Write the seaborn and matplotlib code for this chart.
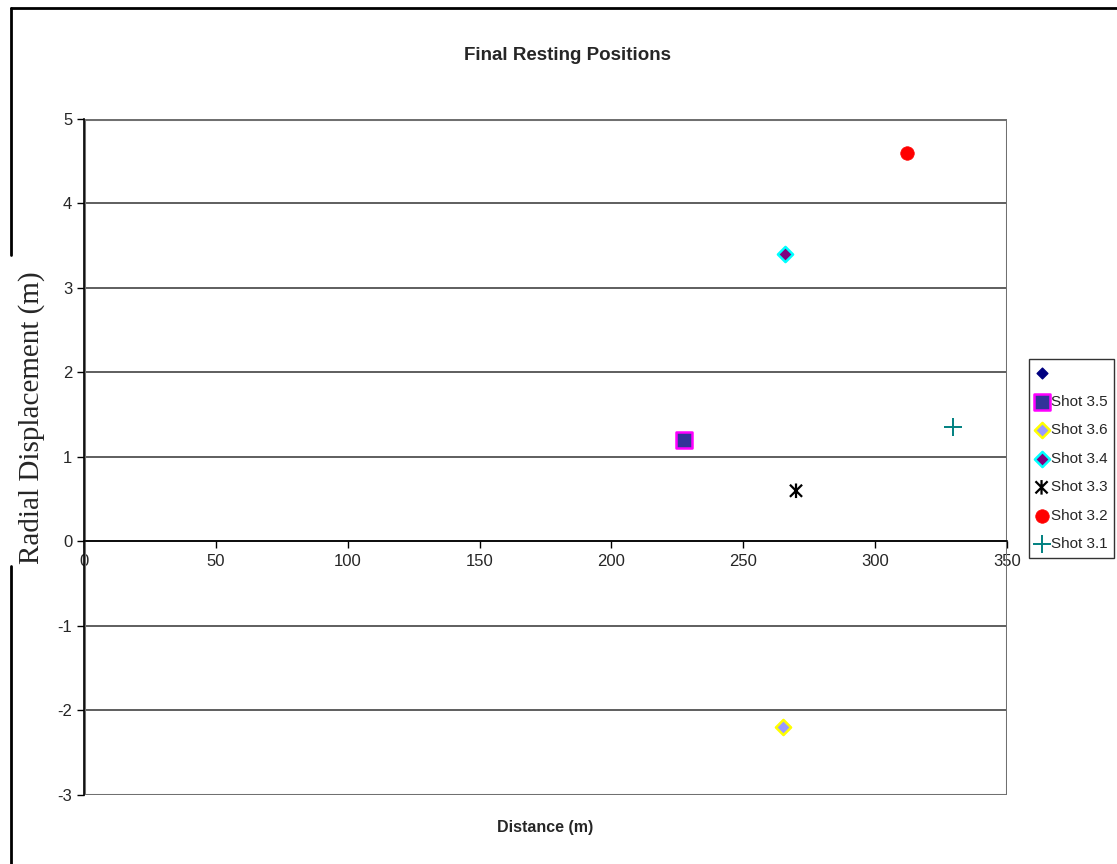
import matplotlib
matplotlib.use("Agg")
import matplotlib.pyplot as plt
import seaborn as sns
from matplotlib.lines import Line2D
from matplotlib.patches import Rectangle
from matplotlib.path import Path

# Final resting positions
SHOTS = ["Shot 3.5", "Shot 3.6", "Shot 3.4", "Shot 3.3", "Shot 3.2", "Shot 3.1"]
DISTANCE = [227.5, 265.0, 266.0, 270.0, 312.0, 329.5]
DISPLACEMENT = [1.2, -2.2, 3.4, 0.6, 4.6, 1.35]

# first series in the legend has no label and no visible points
BLANK_X = []
BLANK_Y = []

X_TICKS = [0, 50, 100, 150, 200, 250, 300, 350]
Y_TICKS = [-3, -2, -1, 0, 1, 2, 3, 4, 5]

# Excel "x with vertical bar" marker
STAR_PATH = Path(
    [(-1, -1), (1, 1), (-1, 1), (1, -1), (0, -1.2), (0, 1.2)],
    [Path.MOVETO, Path.LINETO, Path.MOVETO, Path.LINETO, Path.MOVETO, Path.LINETO],
)

# marker, face, edge, size, line width per shot
STYLES = {
    "Shot 3.5": ("s", "#333399", "#FF00FF", 120, 1.8),
    "Shot 3.6": ("D", "#9999FF", "#FFFF00", 60, 1.8),
    "Shot 3.4": ("D", "#800080", "#00FFFF", 60, 1.8),
    "Shot 3.3": (STAR_PATH, "none", "#000000", 110, 1.6),
    "Shot 3.2": ("o", "#FF0000", "#FF0000", 95, 0.5),
    "Shot 3.1": ("+", "#008080", "#008080", 150, 1.4),
}

NARROW = ["Liberation Sans Narrow", "Liberation Sans", "DejaVu Sans"]


def plot_final_positions():
    sns.set_style("white")
    plt.rcParams["font.family"] = NARROW
    plt.rcParams["axes.unicode_minus"] = False

    fig = plt.figure(figsize=(11.17, 8.64), dpi=100)
    ax = fig.add_axes([0.0752, 0.0799, 0.8263, 0.7824])

    # blank legend entry
    ax.scatter(BLANK_X, BLANK_Y, marker="D", s=30, color="#000080", label=" ")

    for shot, x, y in zip(SHOTS, DISTANCE, DISPLACEMENT):
        marker, face, edge, size, lw = STYLES[shot]
        sns.scatterplot(x=[x], y=[y], marker=marker, s=size, color=edge,
                        facecolor=face, edgecolor=edge, linewidth=lw,
                        label=shot, ax=ax, zorder=5)

    ax.set_xlim(0, 350)
    ax.set_ylim(-3, 5)
    ax.set_xticks(X_TICKS)
    ax.set_yticks(Y_TICKS)
    ax.tick_params(axis="both", labelsize=12, direction="out", length=5,
                   width=1, color="black", bottom=True, left=True)
    ax.tick_params(axis="x", pad=4)

    # horizontal grid only
    for yv in Y_TICKS[1:-1]:
        ax.axhline(yv, color="#333333", linewidth=1.1, zorder=1)

    # gray plot area frame, x axis crossing at y = 0
    ax.add_patch(Rectangle((0, 0), 1, 1, transform=ax.transAxes, fill=False,
                           edgecolor="#707070", linewidth=2.2, zorder=2))
    ax.spines["top"].set_visible(False)
    ax.spines["right"].set_visible(False)
    ax.spines["bottom"].set_position(("data", 0))
    ax.spines["bottom"].set_color("black")
    ax.spines["bottom"].set_linewidth(1.2)
    ax.spines["left"].set_color("black")
    ax.spines["left"].set_linewidth(1.2)
    ax.set_xlabel("")
    ax.set_ylabel("")

    fig.text(0.508, 0.936, "Final Resting Positions", ha="center", va="center",
             fontsize=13.5, fontweight="bold")
    fig.text(0.488, 0.0417, "Distance (m)", ha="center", va="center",
             fontsize=11.5, fontweight="bold")
    fig.text(0.028, 0.516, "Radial Displacement (m)", rotation=90,
             ha="center", va="center", fontsize=21,
             family=["Liberation Serif", "DejaVu Serif"])

    # outer chart border, broken where the axis title sits
    bx = 0.0098
    for seg in [(0.9907, 0.705), (0.345, 0.0)]:
        fig.add_artist(Line2D([bx, bx], list(seg), color="black", linewidth=2,
                              transform=fig.transFigure))
    fig.add_artist(Line2D([bx, 1.0], [0.9907, 0.9907], color="black",
                          linewidth=2, transform=fig.transFigure))

    handles, labels = ax.get_legend_handles_labels()
    if ax.legend_:
        ax.legend_.remove()
    leg = fig.legend(handles, labels, loc="upper left",
                     bbox_to_anchor=(0.9215, 0.584), frameon=True,
                     fontsize=11, handlelength=0.7, handletextpad=0.25,
                     labelspacing=0.95, borderpad=0.45, borderaxespad=0,
                     fancybox=False, scatterpoints=1)
    leg.get_frame().set_edgecolor("black")
    leg.get_frame().set_linewidth(1.0)

    return fig


if __name__ == "__main__":
    fig = plot_final_positions()
    fig.savefig("out.png", dpi=100)
